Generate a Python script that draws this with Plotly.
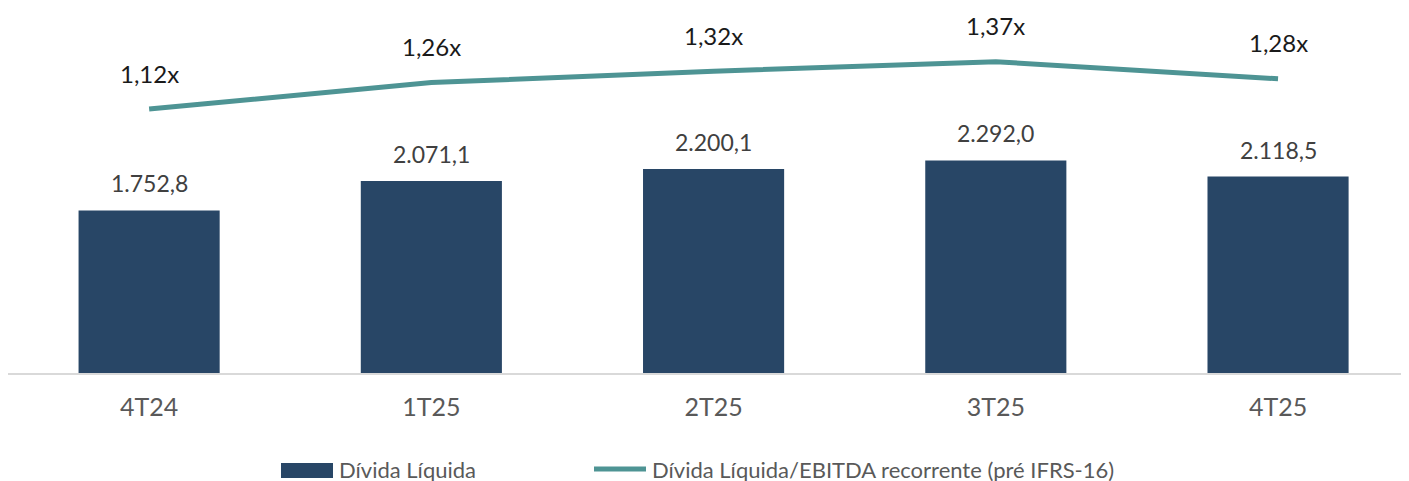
import plotly.graph_objects as go

# ── Data ──────────────────────────────────────────────────────────────────────
quarters = ["4T24", "1T25", "2T25", "3T25", "4T25"]
divida_liquida = [1752.8, 2071.1, 2200.1, 2292.0, 2118.5]
alavancagem = [1.12, 1.26, 1.32, 1.37, 1.28]

BAR_NAME = "Dívida Líquida"
LINE_NAME = "Dívida Líquida/EBITDA recorrente (pré IFRS-16)"


class COLORS:
    NAVY = "#284666"
    TEAL = "#4E9494"
    GRID = "#d9d9d9"
    TEXT = "#595959"
    LABEL = "#404040"


FONT = "Lato, 'Open Sans', sans-serif"
PLOT_W, PLOT_H = 1401, 363   # plot area in px (page has an 8px body margin)


def br_number(v, decimals=1):
    """1752.8 -> '1.752,8' (formato brasileiro)."""
    s = f"{v:,.{decimals}f}"
    return s.replace(",", "X").replace(".", ",").replace("X", ".")


fig = go.Figure()
fig.add_trace(go.Bar(
    x=quarters, y=divida_liquida, name=BAR_NAME,
    marker=dict(color=COLORS.NAVY, line=dict(width=0)),
    width=0.5, showlegend=False,
))
fig.add_trace(go.Scatter(
    x=quarters, y=alavancagem, name=LINE_NAME, yaxis="y2",
    mode="lines", line=dict(color=COLORS.TEAL, width=5),
    showlegend=False,
))

# data labels
for q, v in zip(quarters, divida_liquida):
    fig.add_annotation(x=q, y=v, text=br_number(v), showarrow=False,
                       yshift=27, font=dict(size=23, color=COLORS.LABEL, family=FONT))
for q, v in zip(quarters, alavancagem):
    fig.add_annotation(x=q, y=v, yref="y2", text=br_number(v, 2) + "x", showarrow=False,
                       yshift=36, font=dict(size=24, color="#1a1a1a", family=FONT))

# legend (drawn manually to match swatch sizes)
fig.add_shape(type="rect", xref="paper", yref="paper", x0=273 / PLOT_W, x1=325 / PLOT_W,
              y0=-90 / PLOT_H, y1=-105 / PLOT_H, fillcolor=COLORS.NAVY, line=dict(width=0))
fig.add_annotation(xref="paper", yref="paper", x=329 / PLOT_W, y=-96 / PLOT_H, text=BAR_NAME,
                   showarrow=False, xanchor="left", yanchor="middle",
                   font=dict(size=22, color=COLORS.TEXT, family=FONT))
fig.add_shape(type="line", xref="paper", yref="paper", x0=586 / PLOT_W, x1=638 / PLOT_W,
              y0=-96 / PLOT_H, y1=-96 / PLOT_H, line=dict(color=COLORS.TEAL, width=5))
fig.add_annotation(xref="paper", yref="paper", x=642 / PLOT_W, y=-96 / PLOT_H, text=LINE_NAME,
                   showarrow=False, xanchor="left", yanchor="middle",
                   font=dict(size=22, color=COLORS.TEXT, family=FONT))

fig.update_layout(
    width=1409, height=481,
    margin=dict(l=0, r=8, t=2, b=116),
    plot_bgcolor="white", paper_bgcolor="white",
    font=dict(family=FONT, color=COLORS.TEXT),
    showlegend=False,
    xaxis=dict(
        range=[-0.5, 4.464], showgrid=False, showline=True,
        linecolor=COLORS.GRID, linewidth=2,
        ticks="outside", ticklen=11, tickcolor="rgba(0,0,0,0)",
        tickfont=dict(size=25, color=COLORS.TEXT, family=FONT),
    ),
    yaxis=dict(range=[0, 3914], visible=False),
    yaxis2=dict(range=[-0.277, 1.644], overlaying="y", visible=False),
)

fig.write_html("out.html")
